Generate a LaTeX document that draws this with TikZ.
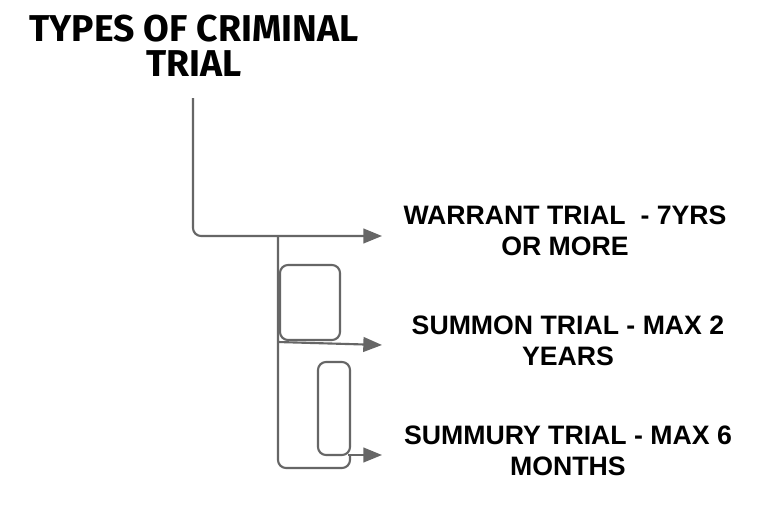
\documentclass[tikz,border=0pt]{standalone}
\usepackage{fontspec}
\setmainfont{Liberation Sans}
\newfontfamily\titlefont{Fira Sans}
\usetikzlibrary{arrows.meta}
\begin{document}
\begin{tikzpicture}[x=0.75pt,y=-0.75pt,
  conn/.style={draw=gray!80!black,line width=1.6pt,rounded corners=6pt},
  arr/.style={conn,-{Triangle[length=14pt,width=11pt]}},
  lbl/.style={font=\bfseries\fontsize{20}{23}\selectfont,align=center,text=black},
  ttl/.style={font=\titlefont\bfseries\fontsize{28}{26}\selectfont,align=center}]
\fill[white] (0,0) rectangle (783,529);
\node[ttl] (title) at (194,46) {TYPES OF CRIMINAL\\TRIAL};
\coordinate (t) at (193,98);
\coordinate (j1) at (278,236);
\coordinate (e1) at (382,236);
\coordinate (e2) at (382,345);
\coordinate (e3) at (382,455);
\draw[arr] (t) |- (e1);
\draw[conn] (j1) -- (278,468) -- (350,468) -- (350,455);
\draw[arr] (348,455) -- (e3);
\draw[arr] (278,342) -- (e2);
\draw[conn] (280,265) rectangle (340,340);
\draw[conn] (318,362) rectangle (350,455);
\node[lbl] (w) at (565,231) {WARRANT TRIAL \ - 7YRS\\OR MORE};
\node[lbl] (s) at (568,341) {SUMMON TRIAL - MAX 2\\YEARS};
\node[lbl] (m) at (568,451) {SUMMURY TRIAL - MAX 6\\MONTHS};
\end{tikzpicture}
\end{document}
